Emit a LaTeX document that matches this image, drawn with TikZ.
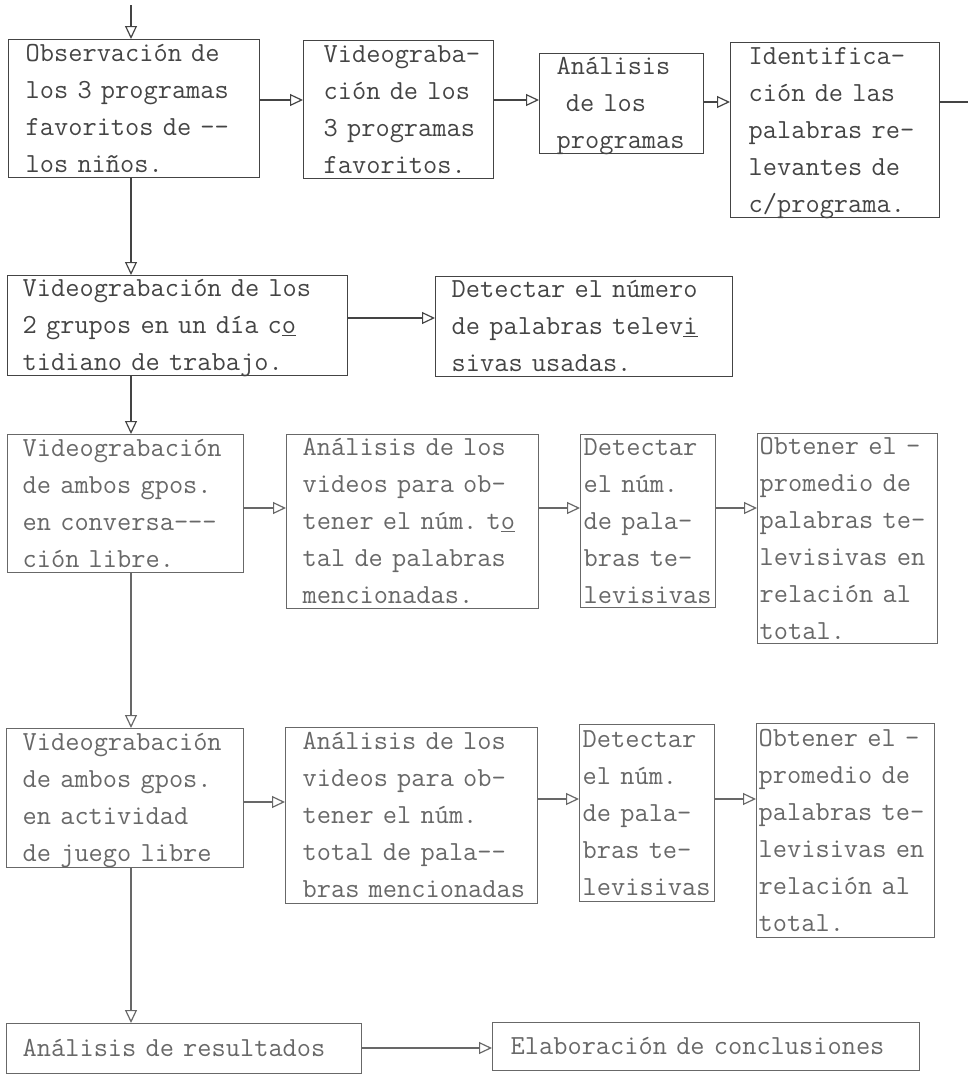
\documentclass[tikz,border=0pt]{standalone}
\usepackage{fontspec}
\usetikzlibrary{arrows.meta}
\frenchspacing
\definecolor{ink}{HTML}{444444}
\definecolor{inkl}{HTML}{686868}
\newcommand{\tln}[1]{\rule[-3pt]{0pt}{22pt}\smash{#1}}
\tikzset{
  box/.style={draw=ink, line width=1.4pt, anchor=north west, inner ysep=0pt,
    align=left, text=ink, font=\ttfamily\fontsize{27.6}{37}\selectfont},
  boxl/.style={box, draw=inkl, text=inkl},
  arr/.style={draw=ink, line width=1.3pt, -{Triangle[open,length=13pt,width=12pt,line width=1.2pt]}},
  arrl/.style={arr, draw=inkl},
  plain/.style={draw=ink, line width=1.3pt}
}
\begin{document}
\begin{tikzpicture}[x=1pt,y=-1pt]
\useasboundingbox (0,0) rectangle (968,1074);
% row 1
\node[box, minimum width=251pt, minimum height=138pt, inner xsep=17pt, text width=217pt] (A) at (8,39)
 {\tln{Observación de}\\\tln{los 3 programas}\\\tln{favoritos de --}\\\tln{los niños.}};
\node[box, minimum width=190pt, minimum height=138pt, inner xsep=20pt, text width=150pt] (B) at (303,40)
 {\tln{Videograba-}\\\tln{ción de los}\\\tln{3 programas}\\\tln{favoritos.}};
\node[box, minimum width=164pt, minimum height=100pt, inner xsep=17pt, text width=130pt] (C) at (539,53)
 {\tln{Análisis}\\\tln{\ de los}\\\tln{programas}};
\node[box, minimum width=209pt, minimum height=175pt, inner xsep=18pt, text width=173pt] (D) at (730,42)
 {\tln{Identifica-}\\\tln{ción de las}\\\tln{palabras re-}\\\tln{levantes de}\\\tln{c/programa.}};
% row 2
\node[box, minimum width=340pt, minimum height=100pt, inner xsep=15pt, text width=310pt] (E) at (7,275)
 {\tln{Videograbación de los}\\\tln{2 grupos en un día c\underline{o}}\\\tln{tidiano de trabajo.}};
\node[box, minimum width=297pt, minimum height=100pt, inner xsep=16pt, text width=265pt] (F) at (435,276)
 {\tln{Detectar el número}\\\tln{de palabras telev\underline{i}}\\\tln{sivas usadas.}};
% row 3
\node[boxl, minimum width=236pt, minimum height=138pt, inner xsep=15pt, text width=206pt] (G) at (7,434)
 {\tln{Videograbación}\\\tln{de ambos gpos.}\\\tln{en conversa---}\\\tln{ción libre.}};
\node[boxl, minimum width=252pt, minimum height=174pt, inner xsep=16pt, text width=220pt] (H) at (286,434)
 {\tln{Análisis de los}\\\tln{videos para ob-}\\\tln{tener el núm. t\underline{o}}\\\tln{tal de palabras}\\\tln{mencionadas.}};
\node[boxl, minimum width=135pt, minimum height=173pt, inner xsep=3pt, text width=129pt] (I) at (580,434)
 {\tln{Detectar}\\\tln{el núm.}\\\tln{de pala-}\\\tln{bras te-}\\\tln{levisivas}};
\node[boxl, minimum width=180pt, minimum height=210pt, inner xsep=2pt, text width=176pt] (J) at (757,433)
 {\tln{Obtener el -}\\\tln{promedio de}\\\tln{palabras te-}\\\tln{levisivas en}\\\tln{relación al}\\\tln{total.}};
% row 4
\node[boxl, minimum width=237pt, minimum height=139pt, inner xsep=16pt, text width=205pt] (K) at (6,728)
 {\tln{Videograbación}\\\tln{de ambos gpos.}\\\tln{en actividad}\\\tln{de juego libre}};
\node[boxl, minimum width=252pt, minimum height=176pt, inner xsep=17pt, text width=218pt] (L) at (285,727)
 {\tln{Análisis de los}\\\tln{videos para ob-}\\\tln{tener el núm.}\\\tln{total de pala--}\\\tln{bras mencionadas}};
\node[boxl, minimum width=135pt, minimum height=177pt, inner xsep=3pt, text width=129pt] (M) at (579,724)
 {\tln{Detectar}\\\tln{el núm.}\\\tln{de pala-}\\\tln{bras te-}\\\tln{levisivas}};
\node[boxl, minimum width=178pt, minimum height=214pt, inner xsep=2pt, text width=174pt] (N) at (756,723)
 {\tln{Obtener el -}\\\tln{promedio de}\\\tln{palabras te-}\\\tln{levisivas en}\\\tln{relación al}\\\tln{total.}};
% row 5
\node[boxl, minimum width=355pt, minimum height=50pt, inner xsep=16pt, text width=323pt] (O) at (6,1023)
 {\tln{Análisis de resultados}};
\node[boxl, minimum width=427pt, minimum height=48pt, inner xsep=18pt, text width=391pt] (P) at (492,1022)
 {\tln{Elaboración de conclusiones}};
% helper coordinates
\coordinate (start) at (131,5);
\coordinate (exit) at (968,102);
\coordinate (r1) at (0,100);
\coordinate (r1b) at (0,102);
\coordinate (r2) at (0,318);
\coordinate (r3) at (0,508);
\coordinate (r4a) at (0,802);
\coordinate (r4b) at (0,799);
\coordinate (r5) at (0,1048);
% vertical spine
\draw[arr] (start) -- (A.north -| start);
\draw[arr] (A.south -| start) -- (E.north -| start);
\draw[arr] (E.south -| start) -- (G.north -| start);
\draw[arrl] (G.south -| start) -- (K.north -| start);
\draw[arrl] (K.south -| start) -- (O.north -| start);
% horizontal connectors
\draw[arr] (A.east |- r1) -- (B.west |- r1);
\draw[arr] (B.east |- r1) -- (C.west |- r1);
\draw[arr] (C.east |- r1b) -- (D.west |- r1b);
\draw[plain] (D.east |- exit) -- (exit);
\draw[arr] (E.east |- r2) -- (F.west |- r2);
\draw[arrl] (G.east |- r3) -- (H.west |- r3);
\draw[arrl] (H.east |- r3) -- (I.west |- r3);
\draw[arrl] (I.east |- r3) -- (J.west |- r3);
\draw[arrl] (K.east |- r4a) -- (L.west |- r4a);
\draw[arrl] (L.east |- r4b) -- (M.west |- r4b);
\draw[arrl] (M.east |- r4b) -- (N.west |- r4b);
\draw[arrl] (O.east |- r5) -- (P.west |- r5);
\end{tikzpicture}
\end{document}
